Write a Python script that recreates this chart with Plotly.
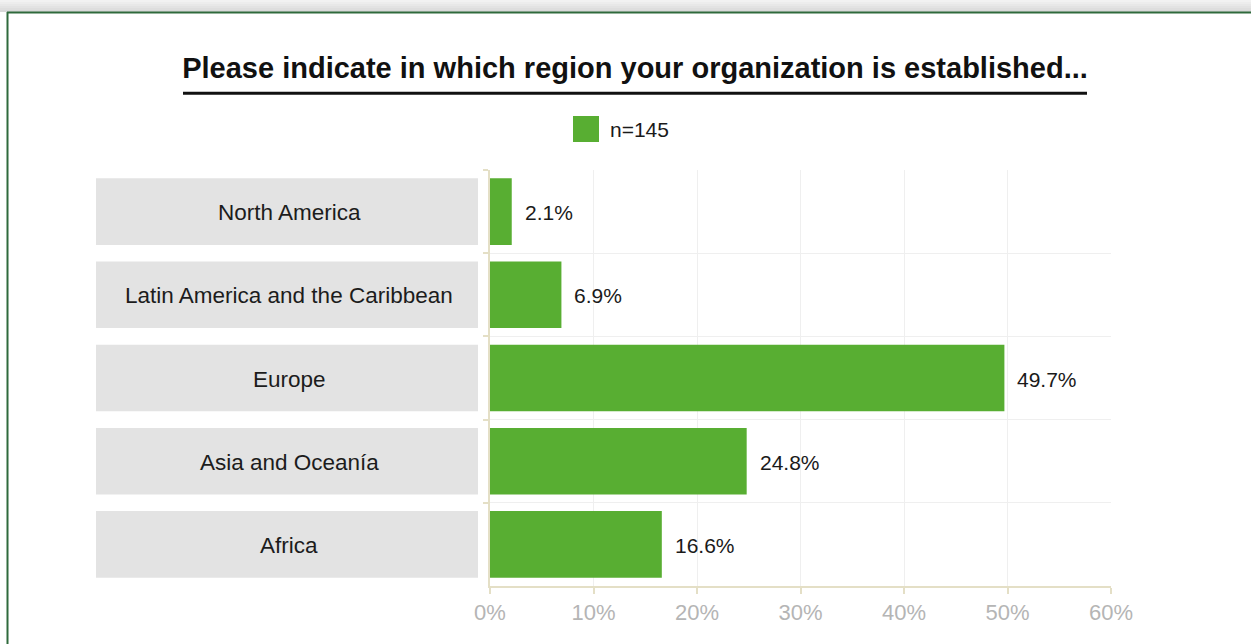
import plotly.graph_objects as go

# Survey results: share of respondents by region
regions = ["North America", "Latin America and the Caribbean", "Europe",
           "Asia and Oceanía", "Africa"]
shares = [2.1, 6.9, 49.7, 24.8, 16.6]
series_name = "n=145"
x_ticks = [0, 10, 20, 30, 40, 50, 60]
x_tick_labels = [f"{t}%" for t in x_ticks]
title_text = "Please indicate in which region your organization is established..."

W, H = 1251, 644
M_TOP, M_BOT = 170, 58
PLOT_H = H - M_TOP - M_BOT

GREEN = "#58ae32"
BOX = "#e3e3e3"
FONT = "Liberation Sans"


def px_x(x):
    return x / W


def px_y(y):
    return (H - M_BOT - y) / PLOT_H


fig = go.Figure()

# Grey label boxes on their own axis pair
fig.add_trace(go.Bar(
    y=regions, x=[1] * len(regions), orientation="h",
    xaxis="x2", yaxis="y2",
    marker=dict(color=BOX, line=dict(width=0)),
    hoverinfo="skip", showlegend=False,
))

# Main bars
fig.add_trace(go.Bar(
    y=regions, x=shares, orientation="h", name=series_name,
    marker=dict(color=GREEN, line=dict(width=0)),
    showlegend=False,
))

annotations = []
# Region names centred in the grey boxes
for r in regions:
    annotations.append(dict(
        x=0.5, y=r, xref="x2", yref="y2", text=r, showarrow=False,
        xanchor="center", yanchor="middle", xshift=2, yshift=-1,
        font=dict(family=FONT, size=22.5, color="#1c1c1c"),
    ))

# Value labels placed just past each bar end
for r, v in zip(regions, shares):
    annotations.append(dict(
        x=v, y=r, xref="x", yref="y", text=f"{v}%", showarrow=False,
        xanchor="left", xshift=11, yshift=-1,
        font=dict(family=FONT, size=21, color="#1a1a1a"),
    ))

# Legend drawn as a swatch and a label
annotations.append(dict(
    x=px_x(608), y=px_y(129), xref="paper", yref="paper", text=series_name,
    showarrow=False, xanchor="left", yanchor="middle",
    font=dict(family=FONT, size=21, color="#1a1a1a"),
))

shapes = [
    dict(type="rect", xref="paper", yref="paper",
         x0=px_x(573), x1=px_x(599), y0=px_y(142), y1=px_y(116),
         fillcolor=GREEN, line=dict(width=0)),
    # title underline
    dict(type="line", xref="paper", yref="paper",
         x0=px_x(183), x1=px_x(1087), y0=px_y(93.3), y1=px_y(93.3),
         line=dict(color="#111111", width=3)),
]

# Top grey band shading into the card's green border
band = ["#f2f2f2", "#ededed", "#e8e8e8", "#e3e3e3", "#dedede", "#d9d9d9"]
for i, c in enumerate(band):
    shapes.append(dict(type="rect", xref="paper", yref="paper",
                       x0=0, x1=1, y0=px_y(2 * i + 2), y1=px_y(2 * i),
                       fillcolor=c, line=dict(width=0), layer="below"))
shapes.append(dict(type="line", xref="paper", yref="paper",
                   x0=px_x(7), x1=1, y0=px_y(12.5), y1=px_y(12.5),
                   line=dict(color="#2f6a3c", width=2)))
shapes.append(dict(type="line", xref="paper", yref="paper",
                   x0=px_x(7.5), x1=px_x(7.5), y0=px_y(12), y1=px_y(H + 5),
                   line=dict(color="#2f6a3c", width=2)))

AXIS_LINE = "#e4dfc6"

fig.update_layout(
    width=W, height=H,
    margin=dict(l=0, r=0, t=M_TOP, b=M_BOT, autoexpand=False),
    paper_bgcolor="white", plot_bgcolor="white",
    bargap=0.2,
    title=dict(text=f"<b>{title_text}</b>", x=px_x(635), xanchor="center",
               y=1 - 68 / H, yanchor="middle", automargin=False,
               font=dict(family=FONT, size=29, color="#111111")),
    xaxis=dict(domain=[px_x(490), px_x(1111)], range=[0, 60],
               tickmode="array", tickvals=x_ticks, ticktext=x_tick_labels,
               showgrid=True, gridcolor="#efefef", gridwidth=1,
               showline=True, linecolor=AXIS_LINE, linewidth=2,
               ticks="outside", ticklen=6, tickcolor=AXIS_LINE, tickwidth=2,
               tickfont=dict(family=FONT, size=22, color="#b5b5b5"),
               zeroline=False, fixedrange=True, automargin=False),
    yaxis=dict(categoryorder="array", categoryarray=regions,
               autorange="reversed", showticklabels=False,
               tickson="boundaries", ticks="outside", ticklen=5,
               tickcolor=AXIS_LINE, tickwidth=2,
               showgrid=True, gridcolor="#efefef", gridwidth=1,
               showline=True, linecolor=AXIS_LINE, linewidth=2,
               zeroline=False, fixedrange=True, automargin=False),
    xaxis2=dict(domain=[px_x(96), px_x(478)], range=[0, 1], anchor="y2",
                visible=False, fixedrange=True, automargin=False),
    yaxis2=dict(categoryorder="array", categoryarray=regions,
                autorange="reversed", anchor="x2", visible=False,
                showgrid=False, fixedrange=True, automargin=False),
    annotations=annotations,
    shapes=shapes,
)

fig.write_html("out.html")
